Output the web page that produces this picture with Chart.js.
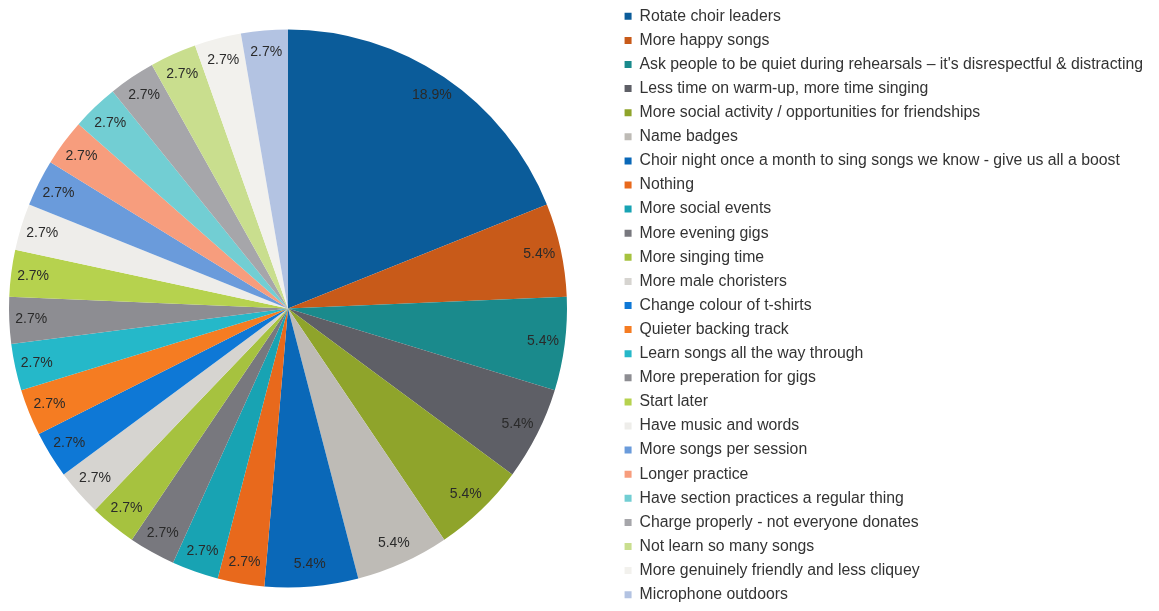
<!DOCTYPE html>
<html>
<head>
<meta charset="utf-8">
<script src="https://cdn.jsdelivr.net/npm/chart.js@4"></script>
<style>
  html, body { margin: 0; padding: 0; background: #fff; }
  #wrap { width: 1159px; height: 611px; }
</style>
</head>
<body>
<div id="wrap"><canvas id="pieChart"></canvas></div>
<script>
// answers and how many people gave each one
var labels = [
  'Rotate choir leaders',
  'More happy songs',
  'Ask people to be quiet during rehearsals \u2013 it\'s disrespectful & distracting',
  'Less time on warm-up, more time singing',
  'More social activity / opportunities for friendships',
  'Name badges',
  'Choir night once a month to sing songs we know - give us all a boost',
  'Nothing',
  'More social events',
  'More evening gigs',
  'More singing time',
  'More male choristers',
  'Change colour of t-shirts',
  'Quieter backing track',
  'Learn songs all the way through',
  'More preperation for gigs',
  'Start later',
  'Have music and words',
  'More songs per session',
  'Longer practice',
  'Have section practices a regular thing',
  'Charge properly - not everyone donates',
  'Not learn so many songs',
  'More genuinely friendly and less cliquey',
  'Microphone outdoors'
];
var counts = [7, 2, 2, 2, 2, 2, 2, 1, 1, 1, 1, 1, 1, 1, 1, 1, 1, 1, 1, 1, 1, 1, 1, 1, 1];

var colours = [
  '#0B5C9A', '#C85A19', '#1A8A8C', '#5E5F66', '#8FA42B', '#BEBBB6',
  '#0A68B8', '#E8691C', '#18A3B3', '#78787E', '#A6C23F', '#D6D4D0',
  '#0E78D6', '#F57C22', '#25B8C9', '#8D8D92', '#B6D24E', '#EEEDEA',
  '#6A9BDB', '#F79D7D', '#72CED3', '#A6A6AA', '#C9DE8E', '#F2F1ED',
  '#B3C3E2'
];

// the pie sits a bit left of the space the legend leaves
var shiftPie = {
  id: 'shiftPie',
  afterLayout: function(chart) {
    var a = chart.chartArea;
    a.right = Math.min(a.right, 600);
    a.left = 576 - a.right;
    a.top = 0;
    a.bottom = 617;
    a.width = a.right - a.left;
    a.height = a.bottom - a.top;
  }
};

// percentage labels just inside the rim of each slice
var percentLabels = {
  id: 'percentLabels',
  afterDatasetsDraw: function(chart) {
    var ctx = chart.ctx;
    var meta = chart.getDatasetMeta(0);
    var total = counts.reduce(function(a, b) { return a + b; }, 0);
    ctx.save();
    ctx.font = '14px "Liberation Sans", Arial, sans-serif';
    ctx.fillStyle = '#2a2a2a';
    ctx.textAlign = 'center';
    ctx.textBaseline = 'middle';
    meta.data.forEach(function(arc, i) {
      var p = arc.getProps(['x', 'y', 'startAngle', 'endAngle', 'outerRadius'], true);
      var mid = (p.startAngle + p.endAngle) / 2;
      var r = p.outerRadius - 22;
      var pct = (counts[i] / total * 100).toFixed(1) + '%';
      ctx.fillText(pct, p.x + Math.cos(mid) * r, p.y + Math.sin(mid) * r);
    });
    ctx.restore();
  }
};

var ctx = document.getElementById('pieChart').getContext('2d');
var myPieChart = new Chart(ctx, {
  type: 'pie',
  data: {
    labels: labels,
    datasets: [{
      data: counts,
      backgroundColor: colours,
      borderWidth: 0,
      radius: 279
    }]
  },
  options: {
    responsive: true,
    maintainAspectRatio: false,
    animation: false,
    layout: { padding: { left: 0, right: 6, top: 0, bottom: 0 } },
    plugins: {
      legend: {
        position: 'right',
        align: 'center',
        labels: {
          boxWidth: 7,
          boxHeight: 7,
          padding: 8.3,
          color: '#333',
          font: { family: '"Liberation Sans", Arial, sans-serif', size: 15.8 }
        }
      },
      tooltip: { enabled: false }
    }
  },
  plugins: [shiftPie, percentLabels]
});
</script>
</body>
</html>
